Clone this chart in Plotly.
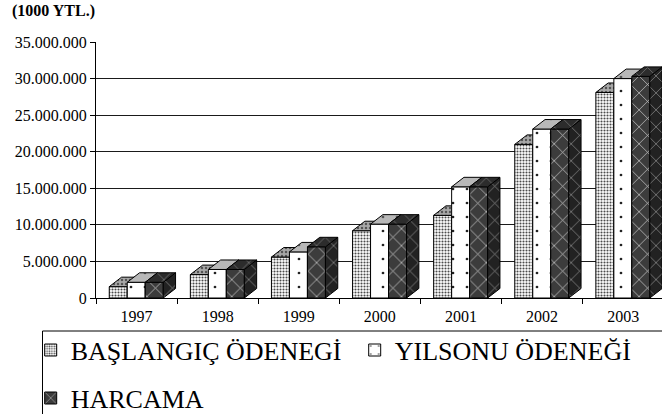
import plotly.graph_objects as go

# ---------------- data ----------------
years = ["1997", "1998", "1999", "2000", "2001", "2002", "2003"]
baslangic = [1.55e6, 3.2e6, 5.6e6, 9.2e6, 11.3e6, 21.0e6, 28.1e6]
yilsonu = [2.15e6, 3.9e6, 6.3e6, 10.1e6, 15.2e6, 23.1e6, 30.0e6]
harcama = [2.15e6, 3.9e6, 7.0e6, 10.1e6, 15.2e6, 23.1e6, 30.3e6]
series_names = ["BAŞLANGIÇ ÖDENEGİ", "YILSONU ÖDENEĞİ", "HARCAMA"]
y_ticks = [0, 5e6, 10e6, 15e6, 20e6, 25e6, 30e6, 35e6]
title_text = "(1000 YTL.)"

# ---------------- geometry ----------------
W, H = 662, 414
ML, MR, MT, MB = 96, 0, 42, 116
plot_w = W - ML - MR
plot_h = H - MT - MB
cat_px = 81.1
x_range = [-0.5, -0.5 + plot_w / cat_px]
y_range = [0, 35e6]
px_per_val = plot_h / (y_range[1] - y_range[0])
bar_w = 18 / cat_px
bar_off0 = -27.3 / cat_px
dx = 12.3 / cat_px
dy = 9.5 / px_per_val

FONT = "Liberation Serif"

styles = [
    dict(front=dict(shape=".", fgcolor="#4a4a4a", bgcolor="#ffffff", size=3, solidity=0.4),
         top=dict(shape=".", fgcolor="#555555", bgcolor="#a8a8a8", size=4, solidity=0.3),
         side=dict(shape=".", fgcolor="#333333", bgcolor="#8a8a8a", size=4, solidity=0.3)),
    dict(front=dict(shape=".", fgcolor="#222222", bgcolor="#ffffff", size=14, solidity=0.03),
         top=dict(shape=".", fgcolor="#555555", bgcolor="#b8b8b8", size=14, solidity=0.03),
         side=dict(shape=".", fgcolor="#555555", bgcolor="#9a9a9a", size=14, solidity=0.03)),
    dict(front=dict(shape="x", fgcolor="#c8c8c8", bgcolor="#3c3c3c", size=12, solidity=0.12),
         top=dict(shape="x", fgcolor="#777777", bgcolor="#2c2c2c", size=12, solidity=0.12),
         side=dict(shape="x", fgcolor="#8a8a8a", bgcolor="#222222", size=12, solidity=0.12)),
]

fig = go.Figure()
all_series = [baslangic, yilsonu, harcama]
axes_ids = [("x", "y"), ("x2", "y2"), ("x3", "y3")]
legends = ["legend", "legend", "legend2"]
xpos = list(range(len(years)))

for k, vals in enumerate(all_series):
    xa, ya = axes_ids[k]
    st = styles[k]
    off = bar_off0 + k * bar_w
    fig.add_trace(go.Bar(
        x=xpos, y=vals, width=bar_w, offset=off, name=series_names[k],
        xaxis=xa, yaxis=ya, legend=legends[k],
        marker=dict(color=st["front"]["bgcolor"], line=dict(color="black", width=1),
                    pattern=dict(fillmode="replace", **st["front"])),
        hoverinfo="skip",
    ))
    top_x, top_y, side_x, side_y = [], [], [], []
    for i, v in enumerate(vals):
        l = i + off
        r = l + bar_w
        top_x += [l, r, r + dx, l + dx, l, None]
        top_y += [v, v, v + dy, v + dy, v, None]
        side_x += [r, r, r + dx, r + dx, r, None]
        side_y += [0, v, v + dy, dy, 0, None]
    for fx, fy, key in [(side_x, side_y, "side"), (top_x, top_y, "top")]:
        fig.add_trace(go.Scatter(
            x=fx, y=fy, mode="lines", fill="toself",
            fillcolor=st[key]["bgcolor"], fillpattern=dict(fillmode="replace", **st[key]),
            line=dict(color="black", width=1), xaxis=xa, yaxis=ya,
            showlegend=False, hoverinfo="skip",
        ))

legend_x = (30.7 - ML) / plot_w
fig.update_layout(
    width=W, height=H,
    margin=dict(l=ML, r=MR, t=MT, b=MB, pad=0, autoexpand=False),
    paper_bgcolor="white", plot_bgcolor="rgba(0,0,0,0)",
    separators=",.",
    barmode="overlay",
    font=dict(family=FONT, size=16, color="black"),
    title=dict(text="<b>" + title_text + "</b>", x=12 / W, xanchor="left",
               y=1 - 10 / H, yanchor="middle", font=dict(family=FONT, size=16, color="black")),
    xaxis=dict(range=x_range, tickmode="array",
               tickvals=[i - 0.5 for i in range(len(years) + 1)],
               ticktext=["" for _ in range(len(years) + 1)],
               ticks="outside", ticklen=5, tickcolor="black", tickwidth=1,
               showline=True, linecolor="black", linewidth=1, showgrid=False, zeroline=False),
    xaxis2=dict(range=x_range, overlaying="x", side="bottom", tickmode="array",
                tickvals=xpos, ticktext=years, ticks="outside", ticklen=4,
                tickcolor="rgba(0,0,0,0)", showline=False, showgrid=False, zeroline=False,
                tickfont=dict(family=FONT, size=16, color="black")),
    xaxis3=dict(range=x_range, overlaying="x", visible=False),
    yaxis=dict(range=y_range, tickmode="array", tickvals=y_ticks, tickformat=",d",
               ticks="outside", ticklen=5, tickcolor="black", tickwidth=1,
               showline=True, linecolor="black", linewidth=1,
               showgrid=True, gridcolor="#1a1a1a", gridwidth=1, zeroline=False,
               tickfont=dict(family=FONT, size=16, color="black")),
    yaxis2=dict(range=y_range, overlaying="y", visible=False),
    yaxis3=dict(range=y_range, overlaying="y", visible=False),
    legend=dict(orientation="h", x=legend_x, xanchor="left",
                y=(H - MB - 326.6) / plot_h, yanchor="top",
                entrywidth=279, entrywidthmode="pixels",
                font=dict(family=FONT, size=26, color="black"),
                bgcolor="rgba(0,0,0,0)", borderwidth=0, traceorder="normal"),
    legend2=dict(orientation="h", x=legend_x, xanchor="left",
                 y=(H - MB - 374.6) / plot_h, yanchor="top",
                 font=dict(family=FONT, size=26, color="black"),
                 bgcolor="rgba(0,0,0,0)", borderwidth=0),
    shapes=[dict(type="rect", xref="paper", yref="paper",
                 x0=(42.5 - ML) / plot_w, x1=1.2,
                 y0=-0.6, y1=(H - MB - 331) / plot_h,
                 line=dict(color="black", width=1), fillcolor="rgba(0,0,0,0)", layer="below")],
    showlegend=True,
)

fig.write_html("out.html", config={"displayModeBar": False},
               post_script="document.body.style.margin='0px';")
